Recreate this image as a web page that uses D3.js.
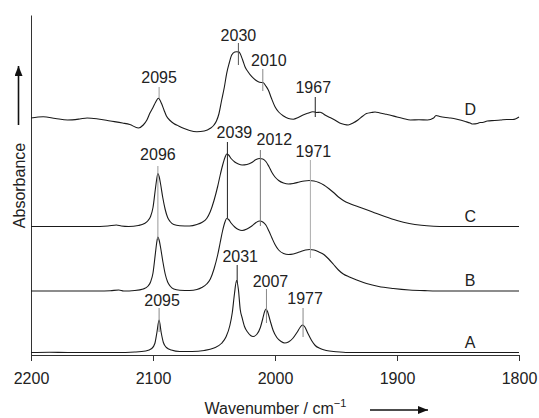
<!DOCTYPE html>
<html>
<head>
<meta charset="utf-8">
<script src="https://cdn.jsdelivr.net/npm/d3@7"></script>
<style>
  body { margin: 0; background: #fff; }
  text { font-family: "Liberation Sans", Arial, sans-serif; fill: #222; }
</style>
</head>
<body>
<div id="chart"></div>
<script>
// spectra: [wavenumber, absorbance above the trace's own baseline] (arbitrary units)
const specA = [[2200,0],[2185,0.3],[2170,0],[2150,0],[2130,0],[2115,0.5],[2106,1.5],[2101,4],[2098.5,9],[2096.8,20],[2095,32.5],[2093.3,20],[2091.5,10],[2089,5],[2085,2.5],[2078,1],[2068,1],[2058,2],[2050,4.5],[2044,9],[2040,16],[2037,27],[2035,40],[2033.3,58],[2031.5,72],[2030,63],[2028.5,43],[2027,35],[2025,26],[2022.5,20.5],[2020,17],[2018,16],[2015,18],[2012,25],[2010,34],[2008.5,41],[2007.4,43.5],[2006,40.5],[2004,32],[2001.5,22],[1998.5,15],[1995,11],[1992,9.5],[1989,10.5],[1985.5,14],[1982,20],[1979.5,25],[1977.5,27.5],[1975.5,25.5],[1973,19],[1970,12],[1967,7],[1963,4],[1958,2],[1950,0.8],[1940,0],[1900,0],[1850,0],[1800,0]];

const specB = [[2200,0],[2170,0],[2145,0],[2135,0.3],[2128,1],[2124,0],[2115,0.5],[2108,2],[2104,5],[2102,9],[2100,18],[2098,38],[2097,48],[2096,54],[2095,51],[2094,45],[2092,30],[2090,17],[2088,9],[2086,5],[2083,2],[2078,0.8],[2070,0.5],[2064,1.5],[2060,3.5],[2056,7],[2053,12],[2050,22],[2047,36],[2045,48],[2043,60],[2041,69],[2039.6,72.5],[2038,71.5],[2036,68],[2033,64],[2030,61.5],[2027,60.5],[2023,62],[2019,65],[2015.5,68.5],[2012.5,70],[2010,69],[2007.5,66],[2005,60],[2002.5,53],[2000,46.5],[1997,41],[1993,37.5],[1989,36.5],[1985,37],[1980,39],[1975,41],[1971.5,41.5],[1968,41],[1964,39],[1960,36.5],[1956,32],[1952,26.5],[1948,21],[1944,17],[1939,14],[1933,11],[1925,7.5],[1915,4.5],[1903,2.5],[1890,1],[1875,0.3],[1860,0],[1830,0],[1800,0]];

const specC = [[2200,0],[2170,0],[2150,0],[2137,0.5],[2130,1.5],[2126,0.5],[2120,0],[2112,1],[2107,3],[2104,6],[2102,10],[2100,19],[2098,38],[2097,47],[2096,53],[2095,50],[2094,44],[2092,29],[2090,17],[2088,9],[2086,5],[2083,2],[2078,0.8],[2070,0.5],[2064,2],[2060,4],[2056,8],[2053,15],[2050,26],[2047,40],[2045,51],[2043,61],[2041,69],[2039.6,72.5],[2038,71.5],[2036,68],[2033,64.5],[2030,62.5],[2027,61.5],[2023,62],[2019,64],[2015.5,67],[2012.5,68],[2010,67.5],[2007.5,65],[2005,60],[2002.5,54],[2000,49.5],[1997,46],[1993,43.5],[1989,42.5],[1985,43],[1980,44.5],[1976,45.5],[1972,46],[1968,45.5],[1964,44],[1960,41.5],[1956,38],[1952,34],[1948,29.5],[1944,26],[1938,22.5],[1930,19],[1920,14.5],[1910,10],[1900,6],[1890,3],[1880,1.2],[1870,0.3],[1860,0],[1830,0],[1800,0]];

const specD = [[2200,2],[2190,3.3],[2180,1.5],[2170,0],[2160,1],[2154,2],[2145,1],[2135,-1],[2125,-3],[2119,-4.5],[2112,-8],[2108,-5],[2105,0],[2102.5,7],[2100,12.5],[2098,17.5],[2095.6,21.7],[2093,16.5],[2091,10],[2089,4],[2086,-0.5],[2083,-3.5],[2079,-6],[2075,-8.3],[2070,-10.5],[2064,-11.7],[2058,-11],[2053,-8.3],[2050,-5],[2048,-1],[2046,6],[2043.7,20],[2041.5,33],[2039.6,46.7],[2037.5,57],[2035.5,65],[2033,68],[2031.4,68.3],[2029.5,68],[2028.7,66.7],[2026.5,60],[2024.6,53.3],[2022,48],[2019,43.3],[2016,40],[2013.7,38.3],[2011,37.5],[2009.6,37.3],[2007.5,34],[2005.5,30],[2003,22],[2000,13.3],[1997,8],[1993,4],[1989,1.5],[1985,0.7],[1981,2.5],[1977,5],[1973,6.8],[1969,8.3],[1966,7.5],[1963,7.8],[1961,6.7],[1959,5],[1955,2.5],[1951,0],[1947,-3],[1943,-4.5],[1940,-5],[1936,-3],[1932,0],[1928,4],[1925,6.5],[1921,7.5],[1918,8],[1914,7],[1910,6],[1906,5],[1900,3],[1895,1.5],[1889,0],[1882,0.3],[1875,0],[1870,2],[1868,4.5],[1865,3.5],[1860,2.5],[1856,2],[1850,0.5],[1844,-1.5],[1840,-3],[1838,-4],[1834,-3.5],[1832,-2.5],[1830,-2.5],[1826,-1],[1820,-0.5],[1815,0],[1810,0.5],[1805,0.5],[1803,1],[1800,3]];

const traceNames = ["A", "B", "C", "D"];
const traceOffsets = [2.5, 64, 128.5, 235];

// labelled band positions (cm-1)
const peaksA = [2095, 2031, 2007, 1977];
const peaksC = [2096, 2039, 2012, 1971];
const peaksD = [2095, 2030, 2010, 1967];

const xTicks = [2200, 2100, 2000, 1900, 1800];

// annotation layout: label height, marker line top/bottom (absorbance units), label shift, line colour
const layoutA = [
  { ty: 55, y1: 47, y2: 23, dx: 3, c: "#888" },
  { ty: 99, y1: 90, y2: 72, dx: 3, c: "#222" },
  { ty: 74, y1: 66, y2: 32, dx: 4, c: "#888" },
  { ty: 56.5, y1: 47, y2: 18, dx: 2, c: "#888" }
];
const layoutC = [
  { ty: 201, y1: 189, y2: 116, dx: 0, c: "#999" },
  { ty: 223, y1: 213, y2: 137, dx: 7, c: "#222" },
  { ty: 216, y1: 205, y2: 129, dx: 14, c: "#777" },
  { ty: 204, y1: 195, y2: 97, dx: 3, c: "#aaa" }
];
const layoutD = [
  { ty: 277.3, y1: 268, y2: 257, dx: 0, c: "#999" },
  { ty: 320, y1: 312, y2: 290, dx: 0, c: "#555" },
  { ty: 294.5, y1: 286, y2: 264, dx: 6, c: "#888" },
  { ty: 267.5, y1: 258, y2: 238, dx: -2, c: "#222" }
];

const width = 539, height = 418;

const svg = d3.select("#chart")
  .append("svg")
  .attr("width", width)
  .attr("height", height);

const x = d3.scaleLinear()
  .domain([2200, 1800])
  .range([31, 519]);

const y = d3.scaleLinear()
  .domain([0, 340])
  .range([355, 15]);

// arrow head marker
svg.append("defs").append("marker")
  .attr("id", "head")
  .attr("viewBox", "0 0 10 8")
  .attr("refX", 10).attr("refY", 4)
  .attr("markerWidth", 10).attr("markerHeight", 8)
  .attr("markerUnits", "userSpaceOnUse")
  .attr("orient", "auto")
  .append("path")
  .attr("d", "M0,0L10,4L0,8Z")
  .attr("fill", "#111");

// X axis
const xAxis = svg.append("g")
  .attr("transform", `translate(0,${y(0)})`)
  .call(d3.axisBottom(x).tickValues(xTicks).tickSizeOuter(0).tickSize(6).tickPadding(12).tickFormat(d3.format("d")));
xAxis.select(".domain").attr("stroke", "#333");
xAxis.selectAll(".tick line").attr("stroke", "#333");
xAxis.selectAll("text").attr("font-size", 16).attr("font-family", null).attr("fill", "#222");

// Y axis (no ticks)
const yAxis = svg.append("g")
  .attr("transform", `translate(${x(2200)},0)`)
  .call(d3.axisLeft(y).tickValues([]).tickSizeOuter(0));
yAxis.select(".domain").attr("stroke", "#333");

// spectra
const spectra = [specA, specB, specC, specD];
const line = d3.line().curve(d3.curveMonotoneX);

spectra.forEach(function (spec, i) {
  svg.append("path")
    .attr("fill", "none")
    .attr("stroke", "#1a1a1a")
    .attr("stroke-width", 1.1)
    .attr("d", line(spec.map(d => [x(d[0]), y(d[1] + traceOffsets[i])])));

  svg.append("text")
    .attr("x", x(1840))
    .attr("y", y(traceOffsets[i]) - 5)
    .attr("text-anchor", "middle")
    .attr("font-size", 16)
    .text(traceNames[i]);
});

// peak annotations
function annotate(peaks, layout) {
  peaks.forEach(function (p, i) {
    const l = layout[i];
    svg.append("line")
      .attr("x1", x(p)).attr("x2", x(p))
      .attr("y1", y(l.y1)).attr("y2", y(l.y2))
      .attr("stroke", l.c)
      .attr("stroke-width", 1);
    svg.append("text")
      .attr("x", x(p) + l.dx)
      .attr("y", y(l.ty))
      .attr("dy", "0.36em")
      .attr("text-anchor", "middle")
      .attr("font-size", 16)
      .text(p);
  });
}
annotate(peaksA, layoutA);
annotate(peaksC, layoutC);
annotate(peaksD, layoutD);

// axis titles
const xTitle = svg.append("text")
  .attr("x", 275.5)
  .attr("y", 414)
  .attr("text-anchor", "middle")
  .attr("font-size", 16);
xTitle.append("tspan").text("Wavenumber / cm");
xTitle.append("tspan").attr("font-size", 11).attr("dy", -7).text("\u22121");

svg.append("line")
  .attr("x1", 370).attr("x2", 428)
  .attr("y1", 410).attr("y2", 410)
  .attr("stroke", "#111").attr("stroke-width", 1.3)
  .attr("marker-end", "url(#head)");

svg.append("text")
  .attr("transform", "translate(25,185.5) rotate(-90)")
  .attr("text-anchor", "middle")
  .attr("font-size", 16)
  .text("Absorbance");

svg.append("line")
  .attr("x1", 18.5).attr("x2", 18.5)
  .attr("y1", 125).attr("y2", 66)
  .attr("stroke", "#111").attr("stroke-width", 1.6)
  .attr("marker-end", "url(#head)");
</script>
</body>
</html>
